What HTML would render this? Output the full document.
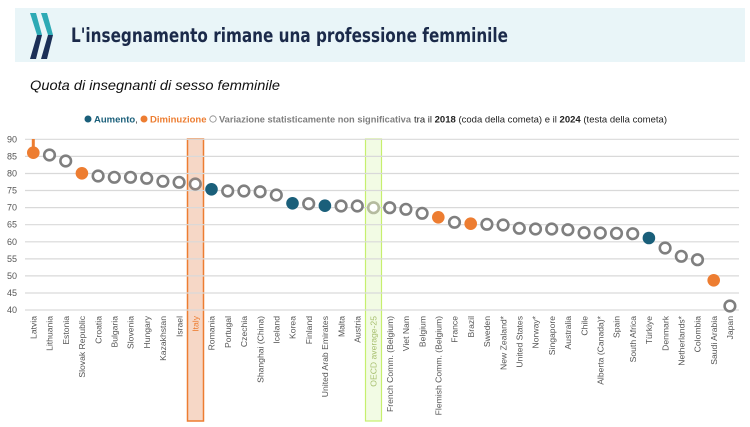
<!DOCTYPE html>
<html><head><meta charset="utf-8"><style>
body{margin:0;background:#fff;width:750px;height:422px;overflow:hidden;font-family:"Liberation Sans",sans-serif}
</style></head><body>
<svg width="750" height="422" viewBox="0 0 750 422" xmlns="http://www.w3.org/2000/svg" font-family="Liberation Sans, sans-serif">
<rect x="15" y="8" width="730" height="54" fill="#e9f5f8"/>
<polygon points="30,13 36,13 42,35 37,35" fill="#2eaab5"/>
<polygon points="37,35 42,35 36,59 30,59" fill="#1b2f57"/>
<polygon points="41,13 47,13 53,35 48,35" fill="#2eaab5"/>
<polygon points="48,35 53,35 47,59 41,59" fill="#1b2f57"/>
<text x="71" y="42" font-size="19.5" font-weight="bold" fill="#1b2a4a" font-family="DejaVu Sans, sans-serif" textLength="437" lengthAdjust="spacingAndGlyphs">L'insegnamento rimane una professione femminile</text>
<text x="30" y="90" font-size="14" font-style="italic" fill="#111" textLength="250" lengthAdjust="spacingAndGlyphs">Quota di insegnanti di sesso femminile</text>
<g font-size="9.5">
<circle cx="88" cy="119" r="3.5" fill="#1a5f7a"/>
<text x="94" y="122.5" fill="#1a5f7a" font-weight="bold">Aumento<tspan fill="#333" font-weight="normal">,</tspan></text>
<circle cx="144" cy="119" r="3.5" fill="#ed7d31"/>
<text x="150" y="122.5" fill="#ed7d31" font-weight="bold">Diminuzione</text>
<circle cx="213" cy="119" r="3.2" fill="none" stroke="#888" stroke-width="0.8"/>
<text x="219" y="122.5" fill="#7f7f7f" font-weight="bold" textLength="192" lengthAdjust="spacingAndGlyphs">Variazione statisticamente non significativa</text>
<text x="414" y="122.5" fill="#222" textLength="253" lengthAdjust="spacingAndGlyphs">tra il <tspan font-weight="bold">2018</tspan> (coda della cometa) e il <tspan font-weight="bold">2024</tspan> (testa della cometa)</text>
</g>
<rect x="187.5" y="139" width="16" height="282" fill="#f6d7c6" stroke="#ed7d31" stroke-width="1.5"/>
<rect x="365.5" y="139" width="16" height="282" fill="#f2fbe4" stroke="#c6ef6e" stroke-width="1.2"/>
<g stroke="#d9d9d9" stroke-width="1.2">
<line x1="25" x2="739" y1="139.3" y2="139.3"/><line x1="25" x2="739" y1="156.4" y2="156.4"/><line x1="25" x2="739" y1="173.5" y2="173.5"/><line x1="25" x2="739" y1="190.5" y2="190.5"/><line x1="25" x2="739" y1="207.6" y2="207.6"/><line x1="25" x2="739" y1="224.7" y2="224.7"/><line x1="25" x2="739" y1="241.8" y2="241.8"/><line x1="25" x2="739" y1="258.9" y2="258.9"/><line x1="25" x2="739" y1="275.9" y2="275.9"/><line x1="25" x2="739" y1="293" y2="293"/><line x1="25" x2="739" y1="310" y2="310"/>
</g>
<g font-size="9" fill="#555" text-anchor="end">
<text x="17" y="142.5">90</text><text x="17" y="159.5">85</text><text x="17" y="176.5">80</text><text x="17" y="193.5">75</text><text x="17" y="210.5">70</text><text x="17" y="227.5">65</text><text x="17" y="245">60</text><text x="17" y="262">55</text><text x="17" y="279">50</text><text x="17" y="296">45</text><text x="17" y="313">40</text>
</g>
<line x1="33.3" x2="33.3" y1="139" y2="152" stroke="#ed7d31" stroke-width="3"/>
<g fill="#fff" stroke="#7f7f7f" stroke-width="2.6">
<circle cx="49.5" cy="155" r="5.3"/><circle cx="65.7" cy="161" r="5.3"/>
<circle cx="98.1" cy="176" r="5.3"/><circle cx="114.3" cy="177.3" r="5.3"/><circle cx="130.5" cy="177.3" r="5.3"/><circle cx="146.7" cy="178.3" r="5.3"/><circle cx="162.9" cy="181.3" r="5.3"/><circle cx="179.1" cy="182.3" r="5.3"/><circle cx="195.3" cy="184" r="5.3" stroke="#8d8480"/>
<circle cx="227.7" cy="191" r="5.3"/><circle cx="243.9" cy="191" r="5.3"/><circle cx="260.1" cy="191.7" r="5.3"/><circle cx="276.3" cy="195" r="5.3"/>
<circle cx="308.7" cy="203.7" r="5.3"/><circle cx="341.1" cy="206" r="5.3"/><circle cx="357.3" cy="206" r="5.3"/>
<circle cx="373.5" cy="207.7" r="5.3" stroke="#b5bb9f"/>
<circle cx="389.7" cy="207.7" r="5.3"/><circle cx="405.9" cy="209.3" r="5.3"/><circle cx="422.1" cy="213.3" r="5.3"/>
<circle cx="454.5" cy="222.3" r="5.3"/><circle cx="486.9" cy="224.3" r="5.3"/><circle cx="503.1" cy="225" r="5.3"/><circle cx="519.3" cy="228.3" r="5.3"/><circle cx="535.5" cy="229" r="5.3"/><circle cx="551.7" cy="229" r="5.3"/><circle cx="567.9" cy="229.7" r="5.3"/><circle cx="584.1" cy="232.7" r="5.3"/><circle cx="600.3" cy="233" r="5.3"/><circle cx="616.5" cy="233.3" r="5.3"/><circle cx="632.7" cy="233.7" r="5.3"/>
<circle cx="665.1" cy="248" r="5.3"/><circle cx="681.3" cy="256.3" r="5.3"/><circle cx="697.5" cy="259.7" r="5.3"/>
<circle cx="729.9" cy="306" r="5.3"/>
</g>
<g fill="#ed7d31">
<circle cx="33.3" cy="152.7" r="6.3"/><circle cx="81.9" cy="173.3" r="6.3"/><circle cx="438.3" cy="217.3" r="6.3"/><circle cx="470.7" cy="223.7" r="6.3"/><circle cx="713.7" cy="280.3" r="6.3"/>
</g>
<g fill="#1a5f7a">
<circle cx="211.5" cy="189.3" r="6.3"/><circle cx="292.5" cy="203.3" r="6.3"/><circle cx="324.9" cy="205.7" r="6.3"/><circle cx="648.9" cy="238" r="6.3"/>
</g>
<g font-size="8.6" fill="#555" text-anchor="end">
<text transform="translate(36.5,316) rotate(-90)">Latvia</text>
<text transform="translate(52.7,316) rotate(-90)">Lithuania</text>
<text transform="translate(68.9,316) rotate(-90)">Estonia</text>
<text transform="translate(85.1,316) rotate(-90)">Slovak Republic</text>
<text transform="translate(101.3,316) rotate(-90)">Croatia</text>
<text transform="translate(117.5,316) rotate(-90)">Bulgaria</text>
<text transform="translate(133.7,316) rotate(-90)">Slovenia</text>
<text transform="translate(149.9,316) rotate(-90)">Hungary</text>
<text transform="translate(166.1,316) rotate(-90)">Kazakhstan</text>
<text transform="translate(182.3,316) rotate(-90)">Israel</text>
<text transform="translate(198.5,316) rotate(-90)" fill="#ed7d31">Italy</text>
<text transform="translate(214.7,316) rotate(-90)">Romania</text>
<text transform="translate(230.9,316) rotate(-90)">Portugal</text>
<text transform="translate(247.1,316) rotate(-90)">Czechia</text>
<text transform="translate(263.3,316) rotate(-90)">Shanghai (China)</text>
<text transform="translate(279.5,316) rotate(-90)">Iceland</text>
<text transform="translate(295.7,316) rotate(-90)">Korea</text>
<text transform="translate(311.9,316) rotate(-90)">Finland</text>
<text transform="translate(328.1,316) rotate(-90)">United Arab Emirates</text>
<text transform="translate(344.3,316) rotate(-90)">Malta</text>
<text transform="translate(360.5,316) rotate(-90)">Austria</text>
<text transform="translate(376.7,316) rotate(-90)" fill="#a8c070">OECD average-25</text>
<text transform="translate(392.9,316) rotate(-90)">French Comm. (Belgium)</text>
<text transform="translate(409.1,316) rotate(-90)">Viet Nam</text>
<text transform="translate(425.3,316) rotate(-90)">Belgium</text>
<text transform="translate(441.5,316) rotate(-90)">Flemish Comm. (Belgium)</text>
<text transform="translate(457.7,316) rotate(-90)">France</text>
<text transform="translate(473.9,316) rotate(-90)">Brazil</text>
<text transform="translate(490.1,316) rotate(-90)">Sweden</text>
<text transform="translate(506.3,316) rotate(-90)">New Zealand*</text>
<text transform="translate(522.5,316) rotate(-90)">United States</text>
<text transform="translate(538.7,316) rotate(-90)">Norway*</text>
<text transform="translate(554.9,316) rotate(-90)">Singapore</text>
<text transform="translate(571.1,316) rotate(-90)">Australia</text>
<text transform="translate(587.3,316) rotate(-90)">Chile</text>
<text transform="translate(603.5,316) rotate(-90)">Alberta (Canada)*</text>
<text transform="translate(619.7,316) rotate(-90)">Spain</text>
<text transform="translate(635.9,316) rotate(-90)">South Africa</text>
<text transform="translate(652.1,316) rotate(-90)">Türkiye</text>
<text transform="translate(668.3,316) rotate(-90)">Denmark</text>
<text transform="translate(684.5,316) rotate(-90)">Netherlands*</text>
<text transform="translate(700.7,316) rotate(-90)">Colombia</text>
<text transform="translate(716.9,316) rotate(-90)">Saudi Arabia</text>
<text transform="translate(733.1,316) rotate(-90)">Japan</text>
</g>
</svg>
</body></html>
